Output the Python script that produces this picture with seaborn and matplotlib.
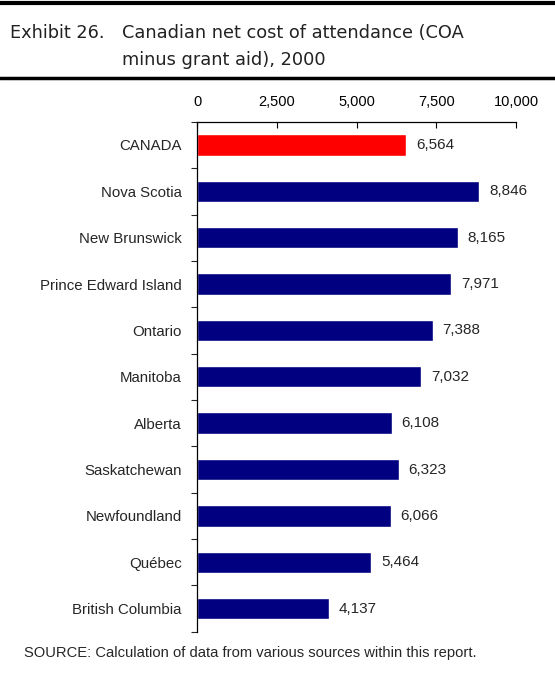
import seaborn as sns
import matplotlib.pyplot as plt
import pandas as pd
from matplotlib.lines import Line2D

# Data read from the exhibit
provinces = ["CANADA", "Nova Scotia", "New Brunswick", "Prince Edward Island",
             "Ontario", "Manitoba", "Alberta", "Saskatchewan",
             "Newfoundland", "Québec", "British Columbia"]
net_cost = [6564, 8846, 8165, 7971, 7388, 7032, 6108, 6323, 6066, 5464, 4137]
bar_colors = ["#FF0000"] + ["#000080"] * 10

df = pd.DataFrame({"province": provinces, "cost": net_cost})

sns.set_style("white")
plt.rcParams["font.family"] = ["Liberation Sans", "DejaVu Sans"]

fig = plt.figure(figsize=(5.55, 6.92), dpi=100)
ax = fig.add_axes([0.355, 0.087, 0.575, 0.737])

sns.barplot(data=df, y="province", x="cost", hue="province",
            palette=bar_colors, legend=False, width=0.46,
            saturation=1, ax=ax)

ax.set_xlim(0, 10000)
ax.set_ylim(10.5, -0.5)
ax.set_xlabel("")
ax.set_ylabel("")

# x axis on top
ax.xaxis.tick_top()
ax.set_xticks([0, 2500, 5000, 7500, 10000])
ax.set_xticklabels(["0", "2,500", "5,000", "7,500", "10,000"])
ax.tick_params(axis="x", direction="in", length=4, width=0.8, pad=9,
               labelsize=10.5, colors="black", top=True, bottom=False)

# y ticks between categories
ax.set_yticks(range(len(provinces)))
ax.set_yticklabels(provinces)
ax.set_yticks([i + 0.5 for i in range(-1, len(provinces))], minor=True)
ax.tick_params(axis="y", which="major", length=0, pad=11, labelsize=10.8)
ax.tick_params(axis="y", which="minor", direction="out", length=4,
               width=0.8, left=True)

for side in ["right", "bottom"]:
    ax.spines[side].set_visible(False)
for side in ["top", "left"]:
    ax.spines[side].set_color("black")
    ax.spines[side].set_linewidth(0.9)

for i, v in enumerate(net_cost):
    ax.text(v + 300, i, f"{v:,}", va="center", ha="left", fontsize=11)

# header rules and title
fig.add_artist(Line2D([0, 1], [0.996, 0.996], color="black", lw=3))
fig.add_artist(Line2D([0, 1], [0.887, 0.887], color="black", lw=2.5))
title_kw = dict(fontsize=12.8, family="DejaVu Sans", va="center",
                color="#222222")
fig.text(0.018, 0.953, "Exhibit 26.", **title_kw)
fig.text(0.22, 0.953, "Canadian net cost of attendance (COA", **title_kw)
fig.text(0.22, 0.913, "minus grant aid), 2000", **title_kw)

fig.text(0.043, 0.057, "SOURCE: Calculation of data from various sources within this report.",
         fontsize=10.6, va="center")

fig.savefig("out.png", dpi=100)
